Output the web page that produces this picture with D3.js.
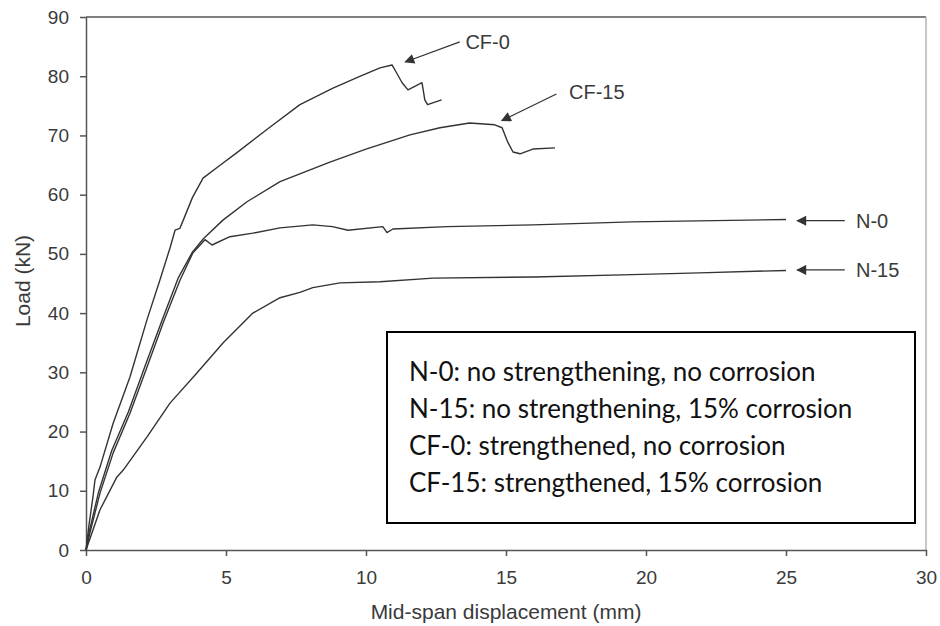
<!DOCTYPE html>
<html>
<head>
<meta charset="utf-8">
<script src="https://cdn.jsdelivr.net/npm/d3@7"></script>
<style>
  html, body { margin: 0; padding: 0; background: #fff; }
  svg { display: block; }
</style>
</head>
<body>
<svg id="chart" width="940" height="626"></svg>
<script>
// load-displacement curves: [displacement mm, load kN]
const cf0 = [
  [0, 0], [0.1, 4], [0.25, 9], [0.32, 11.8], [0.5, 14], [0.97, 21.4], [1.57, 29.2],
  [2.18, 38.9], [2.64, 45.6], [3.0, 51], [3.18, 54], [3.35, 54.3], [3.5, 56],
  [3.8, 59.5], [4.18, 62.8], [4.8, 65], [5.39, 67.1], [6.46, 71], [7.64, 75.2],
  [8.82, 78], [9.8, 80], [10.5, 81.4], [10.93, 81.9], [11.1, 80.5], [11.29, 78.9],
  [11.5, 77.7], [12.0, 78.9], [12.05, 77.5], [12.1, 76], [12.2, 75.2], [12.7, 76]
];
const cf15 = [
  [0, 0], [0.12, 3.2], [0.45, 9.8], [0.92, 16.8], [1.52, 23.4], [2.12, 31.2],
  [2.7, 38.6], [3.3, 46], [3.8, 50.3], [4.2, 52.6], [4.89, 55.7], [5.75, 58.8],
  [6.93, 62.2], [8.71, 65.5], [10.0, 67.7], [11.57, 70.1], [12.64, 71.3],
  [13.7, 72.1], [14.6, 71.8], [14.86, 71.3], [15.05, 69], [15.25, 67.2],
  [15.5, 66.9], [15.96, 67.7], [16.75, 67.9]
];
const n0 = [
  [0, 0], [0.14, 2.9], [0.5, 9.6], [0.97, 16.4], [1.57, 23.1], [2.18, 30.9],
  [2.75, 38.3], [3.36, 45.6], [3.82, 50.2], [4.25, 52.4], [4.5, 51.5], [5.14, 52.9],
  [5.96, 53.5], [6.93, 54.4], [8.1, 54.9], [8.8, 54.6], [9.36, 54.0], [10.6, 54.6],
  [10.75, 53.6], [10.96, 54.2], [12.9, 54.6], [15.96, 54.9], [19.5, 55.4], [25, 55.8]
];
const n15 = [
  [0, 0], [0.5, 6.8], [1.1, 12.3], [1.33, 13.5], [2.18, 19.1], [3.0, 24.8],
  [3.96, 29.9], [4.9, 35], [5.96, 40], [6.93, 42.6], [7.64, 43.5], [8.1, 44.3],
  [9.07, 45.1], [10.5, 45.3], [12.4, 45.9], [16, 46.1], [19.5, 46.5], [21.9, 46.8],
  [25, 47.2]
];
const seriesList = [cf0, cf15, n0, n15];

// curve labels with arrows: label, text anchor point, arrow start, arrow tip
const callouts = [
  { label: "CF-0",  text: [13.55, 85.8], from: [13.35, 85.8], to: [11.4, 82.4] },
  { label: "CF-15", text: [17.25, 77.4], from: [16.8, 77.0], to: [14.85, 72.5] },
  { label: "N-0",   text: [27.5, 55.6],  from: [27.1, 55.6], to: [25.4, 55.6] },
  { label: "N-15",  text: [27.5, 47.3],  from: [27.1, 47.3], to: [25.4, 47.3] }
];

const legendLines = [
  "N-0: no strengthening, no corrosion",
  "N-15: no strengthening, 15% corrosion",
  "CF-0: strengthened, no corrosion",
  "CF-15: strengthened, 15% corrosion"
];

const xTicks = [0, 5, 10, 15, 20, 25, 30];
const yTicks = [0, 10, 20, 30, 40, 50, 60, 70, 80, 90];

const svg = d3.select("#chart");
const margin = { top: 17, right: 14, bottom: 76, left: 86 };
const w = 940, h = 626;

const x = d3.scaleLinear().domain([0, 30]).range([margin.left, w - margin.right]);
const y = d3.scaleLinear().domain([0, 90]).range([h - margin.bottom, margin.top]);

const axisColor = "#555";
const textColor = "#3a3a3a";
const tickFont = "'Liberation Sans', Arial, sans-serif";

// frame: top dark, right light grey
svg.append("line")
  .attr("x1", x(0)).attr("x2", x(30)).attr("y1", y(90)).attr("y2", y(90))
  .attr("stroke", axisColor).attr("stroke-width", 1.5);
svg.append("line")
  .attr("x1", x(30)).attr("x2", x(30)).attr("y1", y(90)).attr("y2", y(0))
  .attr("stroke", "#b5b5b5").attr("stroke-width", 1.5);

// axes
const gx = svg.append("g")
  .attr("transform", `translate(0,${y(0)})`)
  .call(d3.axisBottom(x).tickValues(xTicks).tickSize(6).tickPadding(15).tickSizeOuter(0));
const gy = svg.append("g")
  .attr("transform", `translate(${x(0)},0)`)
  .call(d3.axisLeft(y).tickValues(yTicks).tickSize(6).tickPadding(11).tickSizeOuter(0));

[gx, gy].forEach(g => {
  g.select(".domain").attr("stroke", axisColor).attr("stroke-width", 1.5);
  g.selectAll(".tick line").attr("stroke", axisColor).attr("stroke-width", 1.5);
  g.selectAll(".tick text")
    .attr("fill", textColor)
    .attr("font-family", tickFont)
    .attr("font-size", 19);
});

// axis titles
svg.append("text")
  .attr("x", (x(0) + x(30)) / 2)
  .attr("y", 619)
  .attr("text-anchor", "middle")
  .attr("font-family", tickFont)
  .attr("font-size", 21)
  .attr("fill", textColor)
  .text("Mid-span displacement (mm)");

svg.append("text")
  .attr("transform", `translate(30,281) rotate(-90)`)
  .attr("text-anchor", "middle")
  .attr("font-family", tickFont)
  .attr("font-size", 21)
  .attr("fill", textColor)
  .text("Load (kN)");

// curves
const line = d3.line().x(d => x(d[0])).y(d => y(d[1]));

svg.append("g")
  .selectAll("path")
  .data(seriesList)
  .enter()
  .append("path")
  .attr("d", line)
  .attr("fill", "none")
  .attr("stroke", "#333")
  .attr("stroke-width", 1.4)
  .attr("stroke-linejoin", "round");

// arrows
svg.append("defs").append("marker")
  .attr("id", "arrowHead")
  .attr("viewBox", "0 0 10 10")
  .attr("refX", 9).attr("refY", 5)
  .attr("markerWidth", 11).attr("markerHeight", 10)
  .attr("markerUnits", "userSpaceOnUse")
  .attr("orient", "auto")
  .append("path")
  .attr("d", "M0,0 L10,5 L0,10 Z")
  .attr("fill", "#333");

const gc = svg.append("g");
callouts.forEach(c => {
  gc.append("line")
    .attr("x1", x(c.from[0])).attr("y1", y(c.from[1]))
    .attr("x2", x(c.to[0])).attr("y2", y(c.to[1]))
    .attr("stroke", "#333").attr("stroke-width", 1.3)
    .attr("marker-end", "url(#arrowHead)");
  gc.append("text")
    .attr("x", x(c.text[0])).attr("y", y(c.text[1]))
    .attr("dy", "0.36em")
    .attr("font-family", tickFont)
    .attr("font-size", 20)
    .attr("fill", textColor)
    .text(c.label);
});

// legend box
const box = { x0: 387, y0: 332, x1: 915, y1: 523 };
svg.append("rect")
  .attr("x", box.x0).attr("y", box.y0)
  .attr("width", box.x1 - box.x0).attr("height", box.y1 - box.y0)
  .attr("fill", "#fff").attr("stroke", "#000").attr("stroke-width", 2);

svg.append("g")
  .selectAll("text")
  .data(legendLines)
  .enter()
  .append("text")
  .attr("x", box.x0 + 22)
  .attr("y", (d, i) => box.y0 + 40 + i * 37)
  .attr("dy", "0.35em")
  .attr("font-family", "Lato, 'Open Sans', sans-serif")
  .attr("font-size", 26)
  .attr("fill", "#111")
  .text(d => d);
</script>
</body>
</html>
